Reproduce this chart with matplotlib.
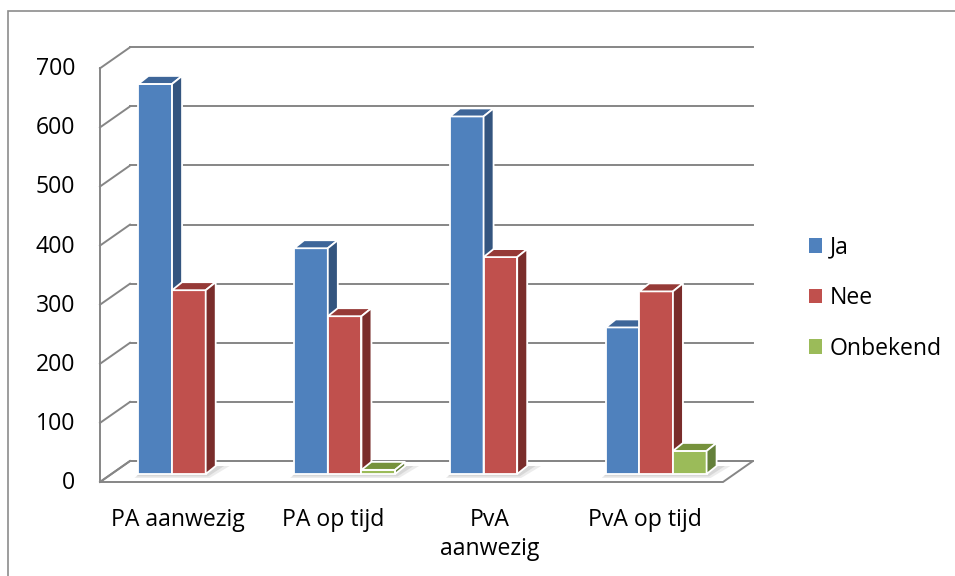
import matplotlib
matplotlib.use('Agg')
import matplotlib.pyplot as plt
from matplotlib.patches import Polygon, Patch
from matplotlib.lines import Line2D

categories = ['PA aanwezig', 'PA op tijd', 'PvA\naanwezig', 'PvA op tijd']
series_names = ['Ja', 'Nee', 'Onbekend']
ja = [660, 382, 605, 248]
nee = [311, 267, 367, 309]
onbekend = [0, 7, 0, 39]
y_ticks = [0, 100, 200, 300, 400, 500, 600, 700]

front_colors = ['#4F81BD', '#C0504D', '#9BBB59']
top_colors = ['#3E6699', '#963A37', '#76923C']
side_colors = ['#34557F', '#7A2D2B', '#64803A']
grid_color = '#868686'
FONT = 'Open Sans'
FS = 16.6

W, H = 955, 576
fig = plt.figure(figsize=(W / 100, H / 100), dpi=100)
fig.patch.set_facecolor('white')

# axes box = plane of the bar front faces (pixel coords)
L, R, B, T = 111, 734, 474, 60.3
ax = fig.add_axes([L / W, 1 - B / H, (R - L) / W, (B - T) / H])
ax.set_xlim(-0.5, 3.5)
ax.set_ylim(0, 700)
ax.axis('off')
sx = (R - L) / 4.0
sy = (B - T) / 700.0


def off(px_dx, px_up):
    return px_dx / sx, px_up / sy


fdx, fdy = off(-11, -8)   # front plane (axis, floor front edge)
bdx, bdy = off(19, 13)    # back wall
cdx, cdy = off(10, 8)     # bar depth

x_lo, x_hi = -0.5, 3.5

# floor
floor = Polygon([(x_lo + fdx, fdy), (x_hi + fdx, fdy), (x_hi + bdx, bdy), (x_lo + bdx, bdy)],
                closed=True, facecolor='white', edgecolor=grid_color, lw=1.4,
                zorder=1, clip_on=False)
ax.add_patch(floor)

# back-wall gridlines and side diagonals
for v in y_ticks:
    ax.add_line(Line2D([x_lo + bdx, x_hi + bdx], [v + bdy, v + bdy], color=grid_color,
                       lw=1.4, zorder=1, clip_on=False))
    ax.add_line(Line2D([x_lo + fdx, x_lo + bdx], [v + fdy, v + bdy], color=grid_color,
                       lw=1.4, zorder=1, clip_on=False))
    ax.text(x_lo + fdx - 25 / sx, v + fdy - 1 / sy, str(v), ha='right', va='center',
            fontsize=FS, family=FONT, color='black', clip_on=False)
# front vertical axis
ax.add_line(Line2D([x_lo + fdx, x_lo + fdx], [fdy, y_ticks[-1] + fdy], color=grid_color,
                   lw=1.4, zorder=1, clip_on=False))

# bars
w = 0.216
series = [ja, nee, onbekend]
z = 3
for i in range(len(categories)):
    present = [j for j in range(3) if series[j][i] > 0]
    # soft shadow on floor under the drawn bars
    gx0 = i - 1.5 * w + present[0] * w
    gx1 = i - 1.5 * w + (present[-1] + 1) * w
    for grow, alpha in [(1.0, 0.18), (0.6, 0.25)]:
        shadow = Polygon([(gx0 - 4 * grow / sx, -4 * grow / sy), (gx1 + 4 * grow / sx, -4 * grow / sy),
                          (gx1 + cdx + 14 * grow / sx, cdy), (gx0 + cdx, cdy)],
                         closed=True, facecolor='#9a9a9a', edgecolor='none', alpha=alpha,
                         zorder=2, clip_on=False)
        ax.add_patch(shadow)
    for j in present:
        h = series[j][i]
        x0 = i - 1.5 * w + j * w
        ax.bar([x0], [h], width=w, align='edge', color=front_colors[j],
               edgecolor='white', linewidth=1.3, zorder=z, clip_on=False)
        top = Polygon([(x0, h), (x0 + w, h), (x0 + w + cdx, h + cdy), (x0 + cdx, h + cdy)],
                      closed=True, facecolor=top_colors[j], edgecolor='white', lw=1.3,
                      zorder=z, clip_on=False)
        side = Polygon([(x0 + w, 0), (x0 + w + cdx, cdy), (x0 + w + cdx, h + cdy), (x0 + w, h)],
                       closed=True, facecolor=side_colors[j], edgecolor='white', lw=1.3,
                       zorder=z, clip_on=False)
        ax.add_patch(top)
        ax.add_patch(side)
        z += 1

# category labels
for i, c in enumerate(categories):
    ax.text(i + fdx, fdy - 26 / sy, c, ha='center', va='top', fontsize=FS, family=FONT,
            linespacing=1.3, clip_on=False)

# legend
handles = [Patch(facecolor=front_colors[j], edgecolor='none') for j in range(3)]
fig.legend(handles, series_names, loc='center left',
           bbox_to_anchor=(809 / W, 1 - 298 / H), frameon=False,
           prop={'family': FONT, 'size': FS}, handlelength=0.58, handleheight=0.58,
           handletextpad=0.33, labelspacing=1.15, borderpad=0, borderaxespad=0)

# outer chart border (left and top visible)
border = Polygon([(8 / W, -0.05), (8 / W, 1 - 10.5 / H), (1.05, 1 - 10.5 / H)],
                 closed=False, fill=False, edgecolor='#8c8c8c', lw=1.2,
                 transform=fig.transFigure, clip_on=False)
fig.add_artist(border)

fig.savefig('out.png', dpi=100)
